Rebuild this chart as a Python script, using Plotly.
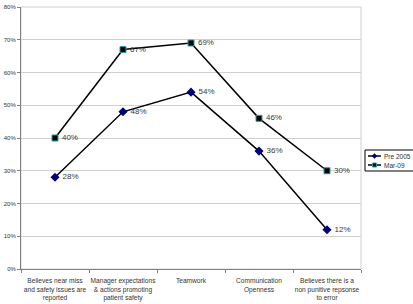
import plotly.graph_objects as go

categories = [
    "Believes near miss<br>and safety issues are<br>reported",
    "Manager expectations<br>& actions promoting<br>patient safety",
    "Teamwork",
    "Communication<br>Openness",
    "Believes there is a<br>non punitive repsonse<br>to error",
]
pre2005 = [0.28, 0.48, 0.54, 0.36, 0.12]
mar09 = [0.40, 0.67, 0.69, 0.46, 0.30]
y_ticks = [0, 0.1, 0.2, 0.3, 0.4, 0.5, 0.6, 0.7, 0.8]
series_names = ["Pre 2005", "Mar-09"]

PRE_COLOR = "#000080"
MAR_EDGE = "#2a9d9d"

fig = go.Figure()
fig.add_trace(go.Scatter(
    x=categories, y=pre2005, name=series_names[0], mode="lines+markers+text",
    line=dict(color="black", width=1.5),
    marker=dict(symbol="diamond", size=7, color=PRE_COLOR, line=dict(width=0)),
    text=[f" {round(v*100)}%" for v in pre2005], textposition="middle right",
    textfont=dict(family="Arial", size=8, color="#3a3a3a"),
    showlegend=False,
))
fig.add_trace(go.Scatter(
    x=categories, y=mar09, name=series_names[1], mode="lines+markers+text",
    line=dict(color="black", width=1.5),
    marker=dict(symbol="square", size=6, color="black", line=dict(color=MAR_EDGE, width=1)),
    text=[f" {round(v*100)}%" for v in mar09], textposition="middle right",
    textfont=dict(family="Arial", size=8, color="#3a3a3a"),
    showlegend=False,
))

fig.update_layout(
    width=413, height=304,
    margin=dict(l=21, r=52, t=7, b=35),
    paper_bgcolor="white", plot_bgcolor="white",
    font=dict(family="Arial", size=6, color="#333333"),
    showlegend=False,
)
fig.update_xaxes(
    type="category", range=[-0.5, len(categories) - 0.5],
    tickson="boundaries", ticks="outside", ticklen=3,
    tickcolor="#808080", showline=True, linecolor="#808080", linewidth=1,
    showgrid=False, tickfont=dict(size=6.6), tickangle=0, mirror=False,
    ticklabelstandoff=5, automargin=False,
)
fig.update_yaxes(
    range=[0, 0.8], tickvals=y_ticks, tickformat=".0%", ticks="outside", ticklen=3,
    tickcolor="#808080", showline=True, linecolor="#808080", linewidth=1,
    showgrid=True, gridcolor="#d0d0d0", gridwidth=1, zeroline=False,
    tickfont=dict(size=6), automargin=False,
)
fig.add_shape(type="rect", xref="paper", yref="paper", x0=0, y0=0, x1=1, y1=1,
              line=dict(color="#d0d0d0", width=1), layer="below")

# Legend drawn manually (compact, like the reference)
def px_x(px):
    return (px - 21) / 340.0

def px_y(py):
    return (269 - py) / 262.0

fig.add_shape(type="rect", xref="paper", yref="paper",
              x0=px_x(365), x1=px_x(416), y0=px_y(171), y1=px_y(150),
              line=dict(color="black", width=1), fillcolor="white")
for i, (name, ypx) in enumerate(zip(series_names, [156, 165])):
    fig.add_shape(type="line", xref="paper", yref="paper",
                  x0=px_x(368), x1=px_x(381), y0=px_y(ypx), y1=px_y(ypx),
                  line=dict(color="black", width=1.5))
    cx, cy = 374.5, ypx
    if i == 0:
        path = (f"M {px_x(cx-2.5)} {px_y(cy)} L {px_x(cx)} {px_y(cy-2.5)} "
                f"L {px_x(cx+2.5)} {px_y(cy)} L {px_x(cx)} {px_y(cy+2.5)} Z")
        fig.add_shape(type="path", xref="paper", yref="paper", path=path,
                      fillcolor=PRE_COLOR, line=dict(color=PRE_COLOR, width=0.5))
    else:
        fig.add_shape(type="rect", xref="paper", yref="paper",
                      x0=px_x(cx-2), x1=px_x(cx+2), y0=px_y(cy+2), y1=px_y(cy-2),
                      fillcolor="black", line=dict(color=MAR_EDGE, width=1))
    fig.add_annotation(xref="paper", yref="paper", x=px_x(382), y=px_y(ypx),
                       text=name, showarrow=False, xanchor="left", yanchor="middle",
                       font=dict(family="Arial", size=6.5, color="#333333"))

fig.write_html("out.html")
